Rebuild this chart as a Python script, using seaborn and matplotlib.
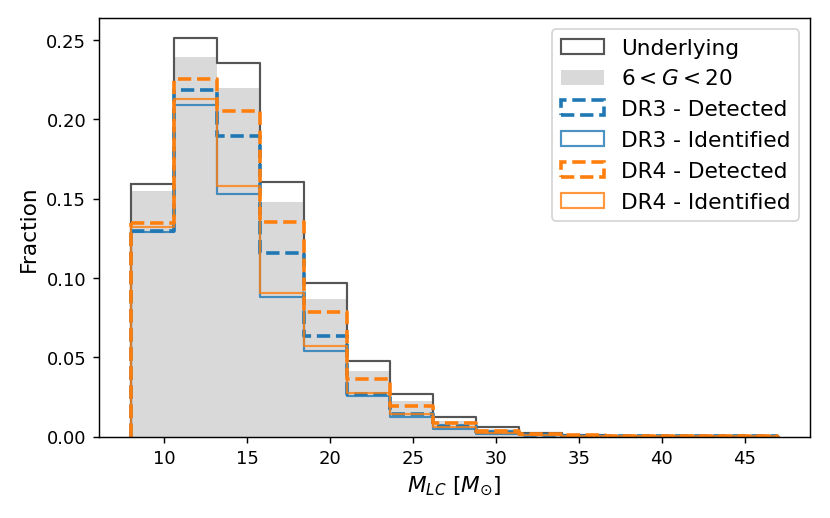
import numpy as np
import pandas as pd
import seaborn as sns
import matplotlib.pyplot as plt
from matplotlib.patches import Patch

# 15 bins of width 2.6 from 8 to 47 Msun
edges = [round(8.0 + 2.6 * i, 2) for i in range(16)]
centers = [(a + b) / 2 for a, b in zip(edges[:-1], edges[1:])]

underlying = [0.1593, 0.2511, 0.2353, 0.1602, 0.0966, 0.0479, 0.0269, 0.0122,
              0.0059, 0.0025, 0.0010, 0.0006, 0.0003, 0.0002, 0.0001]
g6_20 = [0.1545, 0.2393, 0.2196, 0.1476, 0.0867, 0.0416, 0.0223, 0.0101,
         0.0045, 0.0020, 0.0008, 0.0005, 0.0003, 0.0002, 0.0001]
dr3_det = [0.1295, 0.2185, 0.1892, 0.1155, 0.0632, 0.0270, 0.0145, 0.0065,
           0.0028, 0.0012, 0.0006, 0.0004, 0.0003, 0.0002, 0.0001]
dr3_id = [0.1287, 0.2089, 0.1528, 0.0882, 0.0542, 0.0254, 0.0126, 0.0048,
          0.0018, 0.0008, 0.0004, 0.0003, 0.0002, 0.0001, 0.0001]
dr4_det = [0.1344, 0.2257, 0.2053, 0.1352, 0.0783, 0.0363, 0.0195, 0.0086,
           0.0038, 0.0015, 0.0008, 0.0006, 0.0005, 0.0004, 0.0003]
dr4_id = [0.1321, 0.2125, 0.1577, 0.0905, 0.0569, 0.0273, 0.0143, 0.0059,
          0.0022, 0.0009, 0.0005, 0.0004, 0.0003, 0.0002, 0.0001]

df = pd.DataFrame({"m": centers, "und": underlying, "g": g6_20,
                   "dr3d": dr3_det, "dr3i": dr3_id,
                   "dr4d": dr4_det, "dr4i": dr4_id})

fig, ax = plt.subplots(figsize=(6.4, 4), dpi=129.7)

sns.histplot(data=df, x="m", weights="g", bins=edges, element="step",
             fill=True, color="#d9d9d9", alpha=1, linewidth=0, ax=ax)


def step(col, color, ls, lw, alpha=1.0):
    sns.histplot(data=df, x="m", weights=col, bins=edges, element="step",
                 fill=False, color=color, linestyle=ls, linewidth=lw,
                 alpha=alpha, ax=ax)
    # close the outline down to zero at both ends, like histtype='step'
    ax.vlines([edges[0], edges[-1]], 0, [df[col].iloc[0], df[col].iloc[-1]],
              colors=color, linestyles=ls, linewidth=lw, alpha=alpha)


step("und", "#555555", "-", 1.2)
step("dr3d", "#1f77b4", "--", 2.0)
step("dr3i", "#1f77b4", "-", 1.2, 0.8)
step("dr4d", "#ff7f0e", "--", 2.0)
step("dr4i", "#ff7f0e", "-", 1.2, 0.8)

ax.set_xlim(6.05, 48.95)
ax.set_ylim(0, 0.2636)
ax.set_xlabel(r"$M_{LC}\ [M_{\odot}]$", fontsize=12)
ax.set_ylabel("Fraction", fontsize=12)
ax.tick_params(labelsize=10)

handles = [
    Patch(facecolor="none", edgecolor="#555555", linewidth=1.2),
    Patch(facecolor="#d9d9d9", edgecolor="none"),
    Patch(facecolor="none", edgecolor="#1f77b4", linestyle="--", linewidth=2.0),
    Patch(facecolor="none", edgecolor="#1f77b4", linewidth=1.2, alpha=0.8),
    Patch(facecolor="none", edgecolor="#ff7f0e", linestyle="--", linewidth=2.0),
    Patch(facecolor="none", edgecolor="#ff7f0e", linewidth=1.2, alpha=0.8),
]
labels = ["Underlying", r"$6 < G < 20$", "DR3 - Detected", "DR3 - Identified",
          "DR4 - Detected", "DR4 - Identified"]
ax.legend(handles, labels, loc="upper right", fontsize=12)

fig.subplots_adjust(left=0.119, right=0.976, top=0.963, bottom=0.157)
fig.savefig("out.png")
